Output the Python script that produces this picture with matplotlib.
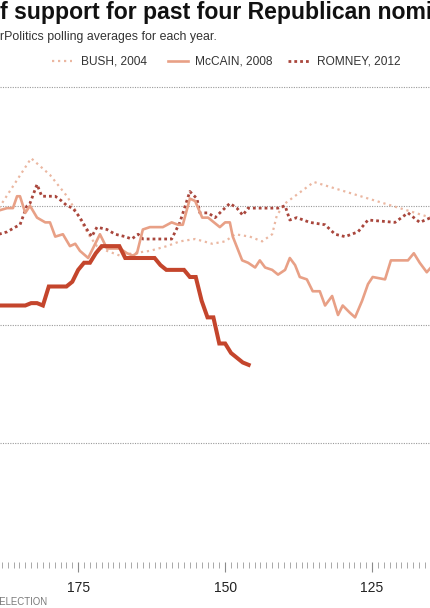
import matplotlib
matplotlib.use('Agg')
import matplotlib.pyplot as plt
from matplotlib.lines import Line2D
from matplotlib.ticker import MultipleLocator

# ---------------- data (days before election, % support) ----------------
trump_days = [188.5, 187, 186, 185, 184, 183, 182, 181, 180, 179, 178, 177, 176, 175,
              174, 173, 172, 171, 170, 169, 168, 167, 166, 165, 164, 163, 162, 161,
              160, 159, 158, 157, 156, 155, 154, 153, 152, 151, 150, 149, 148, 147, 146]
trump_vals = [40.8, 40.8, 40.8, 40.8, 40.8, 40.9, 40.9, 40.8, 41.6, 41.6, 41.6, 41.6, 41.8, 42.3,
              42.6, 42.6, 43.0, 43.3, 43.3, 43.3, 43.3, 42.8, 42.8, 42.8, 42.8, 42.8, 42.8, 42.5,
              42.3, 42.3, 42.3, 42.3, 42.0, 42.0, 41.0, 40.3, 40.3, 39.2, 39.2, 38.8, 38.6, 38.4, 38.3]

mccain_days = [188.5, 187.1, 186.1, 185.4, 184.9, 184.0, 183.2, 182.0, 180.6, 179.8, 178.9, 177.6,
               176.4, 175.5, 174.7, 173.3, 171.3, 170.1, 167.9, 166.7, 165.7, 165.0, 164.0, 162.8,
               161.6, 160.6, 159.1, 158.0, 157.2, 156.0, 155.1, 153.9, 152.9, 150.9, 150.0, 149.2,
               148.7, 147.1, 146.1, 144.9, 144.1, 143.2, 142.0, 141.0, 139.8, 139.0, 138.1, 137.3,
               136.1, 135.1, 133.9, 133.0, 131.8, 130.8, 130.0, 128.8, 127.9, 126.7, 125.7, 124.9,
               122.8, 121.8, 120.8, 118.9, 117.9, 116.9, 115.7, 115.0]
mccain_vals = [44.8, 44.9, 44.9, 45.4, 45.4, 44.7, 45.0, 44.5, 44.3, 44.3, 43.7, 43.8,
               43.3, 43.4, 43.1, 42.8, 43.8, 43.2, 43.2, 43.0, 42.9, 43.0, 44.0, 44.1,
               44.1, 44.1, 44.3, 44.2, 44.2, 45.3, 45.2, 44.5, 44.5, 44.1, 44.3, 44.3,
               43.7, 42.7, 42.6, 42.4, 42.7, 42.4, 42.3, 42.1, 42.3, 42.8, 42.5, 42.0,
               41.9, 41.4, 41.4, 40.8, 41.2, 40.4, 40.8, 40.5, 40.3, 41.0, 41.7, 42.0,
               41.9, 42.7, 42.7, 42.7, 43.0, 42.6, 42.2, 42.4]

bush_days = [188.5, 183.0, 179.8, 176.9, 175.2, 174.2, 173.0, 171.8, 170.1, 167.9, 165.7, 162.8,
             159.9, 157.7, 155.1, 152.2, 150.0, 148.3, 145.8, 143.7, 142.0, 141.2, 139.8, 134.9, 115.0]
bush_vals = [44.9, 47.0, 46.3, 45.4, 44.7, 44.2, 43.7, 43.3, 43.1, 42.9, 43.0, 43.1,
             43.3, 43.5, 43.6, 43.4, 43.5, 43.8, 43.7, 43.5, 43.8, 44.6, 45.1, 46.0, 44.5]

romney_days = [188.5, 187.1, 185.7, 184.9, 183.7, 183.2, 182.0, 181.2, 178.9, 177.8, 176.9, 175.9,
               174.7, 173.5, 172.7, 171.8, 170.1, 168.7, 167.0, 165.9, 164.8, 164.0, 159.1, 157.7,
               156.0, 154.8, 154.3, 152.9, 151.7, 150.9, 149.2, 148.0, 147.0, 146.1, 141.0, 139.8,
               139.0, 137.8, 135.6, 133.0, 131.3, 129.6, 127.4, 125.7, 121.1, 118.9, 116.9, 115.0]
romney_vals = [43.8, 43.9, 44.1, 44.2, 45.0, 45.1, 45.9, 45.4, 45.4, 45.2, 45.0, 44.9,
               44.5, 44.0, 43.7, 44.1, 44.0, 43.8, 43.7, 43.6, 43.8, 43.6, 43.6, 44.3,
               45.6, 45.3, 44.7, 44.7, 44.5, 44.7, 45.1, 44.9, 44.6, 44.9, 44.9, 45.0,
               44.4, 44.5, 44.3, 44.2, 43.8, 43.7, 43.9, 44.4, 44.3, 44.7, 44.3, 44.5]

x_ticks = [175, 150, 125]
grid_levels = [35, 40, 45, 50]

title = "Share of support for past four Republican nominees"
subtitle = "Based on RealClearPolitics polling averages for each year."
xlabel = "DAYS BEFORE ELECTION"
legend_labels = ["BUSH, 2004", "McCAIN, 2008", "ROMNEY, 2012"]

# ---------------- styles ----------------
W, H = 430, 608
plt.rcParams['font.family'] = ['Liberation Sans', 'DejaVu Sans']
fig = plt.figure(figsize=(W / 100, H / 100), dpi=100)
renderer = fig.canvas.get_renderer()

styles = {
    'bush': dict(color='#ebb7a1', lw=1.6, ls=(0, (1, 1.7)), zorder=2),
    'mccain': dict(color='#e8a086', lw=1.9, ls='-', zorder=4),
    'romney': dict(color='#a9463c', lw=2.0, ls=(0, (1, 1.1)), zorder=3),
    'trump': dict(color='#c4452c', lw=2.9, ls='-', zorder=5, solid_joinstyle='miter'),
}

# axes: y=30 at px 562, y=50 at px 87
y_lo, y_hi = 30, 50.6
px_per_unit = (562 - 87) / 20.0
top_px = 87 - (y_hi - 50) * px_per_unit
ax = fig.add_axes([0, 1 - 562 / H, 1, (562 - top_px) / H])
ax.set_ylim(y_lo, y_hi)
ax.set_xlim(188.3, 115.15)

ax.plot(bush_days, bush_vals, **styles['bush'])
ax.plot(romney_days, romney_vals, **styles['romney'])
ax.plot(mccain_days, mccain_vals, **styles['mccain'])
ax.plot(trump_days, trump_vals, **styles['trump'])

for s in ax.spines.values():
    s.set_visible(False)
ax.set_yticks(grid_levels)
ax.tick_params(axis='y', length=0, labelleft=False)
ax.yaxis.grid(True, color='#9a9a9a', lw=0.8, ls=(0, (1, 1.2)))
ax.set_axisbelow(True)
ax.set_xticks(x_ticks)
ax.xaxis.set_minor_locator(MultipleLocator(1))
ax.tick_params(axis='x', which='major', length=7, width=0.8, color='#8a8a8a',
               labelsize=10, labelcolor='#222222', pad=6.5)
ax.tick_params(axis='x', which='minor', length=4, width=0.6, color='#9a9a9a')
ax.patch.set_alpha(0)


def text_width(s, size, weight='normal'):
    t = fig.text(0, 0, s, fontsize=size, weight=weight)
    w = t.get_window_extent(renderer).width
    t.remove()
    return w


def fit(s, target, weight='normal'):
    return 10 * target / text_width(s, 10, weight)


# title (cropped at left edge)
ts = fit("f support for past four Republican no", 406, 'bold')
off = text_width("Share o", ts, 'bold')
fig.text(-off / W, 1 - 19 / H, title, fontsize=ts, weight='bold', color='#111111',
         ha='left', va='baseline')

# subtitle
ss = fit("rPolitics polling averages for each year.", 217)
off = text_width("Based on RealClea", ss)
fig.text(-off / W, 1 - 40 / H, subtitle, fontsize=ss, color='#333333',
         ha='left', va='baseline')

# legend
ls_ = fit("BUSH, 2004", 66)
leg_y = 1 - 60.5 / H
leg_items = [('bush', 52, 72, 81), ('mccain', 168, 188, 195), ('romney', 288, 310, 317)]
for (key, x0, x1, xt), lab in zip(leg_items, legend_labels):
    st = {k: v for k, v in styles[key].items() if k in ('color', 'lw', 'ls')}
    fig.add_artist(Line2D([x0 / W, x1 / W], [leg_y, leg_y], transform=fig.transFigure, **st))
    fig.text(xt / W, 1 - 64 / H, lab, fontsize=ls_, color='#333333', ha='left', va='baseline')

# x-axis caption (cropped)
xs = fit("ELECTION", 48)
fig.text(47 / W, 1 - 605 / H, xlabel, fontsize=xs, color='#7a7a7a', ha='right', va='baseline')

fig.savefig('out.png', dpi=100)
